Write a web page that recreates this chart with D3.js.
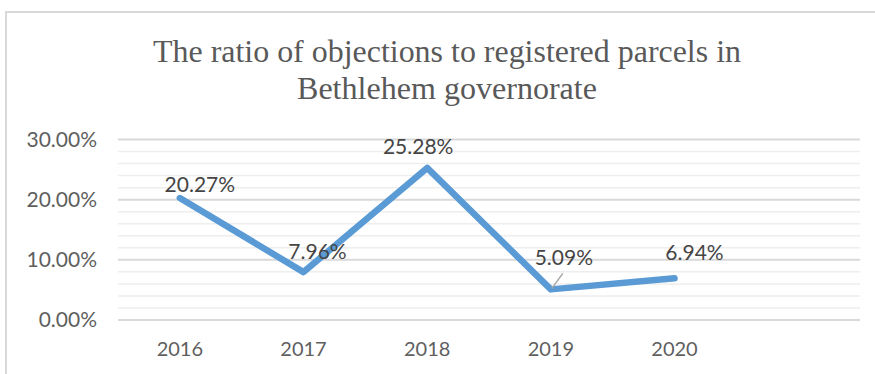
<!DOCTYPE html>
<html>
<head>
<meta charset="utf-8">
<script src="https://cdn.jsdelivr.net/npm/d3@7"></script>
<style>
  html, body { margin: 0; padding: 0; background: #fff; }
  svg { display: block; }
</style>
</head>
<body>
<div id="chart"></div>
<script>
// values
const years = ["2016", "2017", "2018", "2019", "2020"];
const ratios = [0.2027, 0.0796, 0.2528, 0.0509, 0.0694];
const yTicks = [0, 0.10, 0.20, 0.30];
const minorTicks = [0.02, 0.04, 0.06, 0.08, 0.12, 0.14, 0.16, 0.18, 0.22, 0.24, 0.26, 0.28];
const titleLines = ["The ratio of objections to registered parcels in", "Bethlehem governorate"];

const width = 875, height = 374;
const margin = {top: 139.5, right: 15, bottom: 54, left: 118};

const svg = d3.select("#chart").append("svg")
  .attr("width", width)
  .attr("height", height);

// chart frame (runs off the right and bottom edge)
svg.append("path")
  .attr("d", `M6 ${height + 5} L6 12 L${width + 5} 12`)
  .attr("fill", "none")
  .attr("stroke", "#d9d9d9")
  .attr("stroke-width", 2);

// title
svg.append("g")
  .selectAll("text")
  .data(titleLines)
  .join("text")
  .attr("x", 447)
  .attr("y", (d, i) => 62 + i * 37)
  .attr("text-anchor", "middle")
  .attr("font-family", "'Liberation Serif', 'Times New Roman', serif")
  .attr("font-size", 31)
  .attr("fill", "#595959")
  .attr("textLength", (d, i) => i === 0 ? 588 : 300)
  .attr("lengthAdjust", "spacingAndGlyphs")
  .text(d => d);

// one empty slot after 2020, like the source
const x = d3.scaleBand()
  .domain(years.concat([""]))
  .range([margin.left, width - margin.right]);

const y = d3.scaleLinear()
  .domain([0, 0.3])
  .range([height - margin.bottom, margin.top]);

const grid = svg.append("g");

grid.selectAll("line.minor")
  .data(minorTicks)
  .join("line")
  .attr("class", "minor")
  .attr("x1", margin.left)
  .attr("x2", width - margin.right)
  .attr("y1", d => y(d))
  .attr("y2", d => y(d))
  .attr("stroke", "#eeeeee")
  .attr("stroke-width", 1.5);

grid.selectAll("line.major")
  .data(yTicks)
  .join("line")
  .attr("class", "major")
  .attr("x1", margin.left)
  .attr("x2", width - margin.right)
  .attr("y1", d => y(d))
  .attr("y2", d => y(d))
  .attr("stroke", "#d9d9d9")
  .attr("stroke-width", 2);

// y axis labels
const yAxis = d3.axisLeft(y)
  .tickValues(yTicks)
  .tickFormat(d3.format(".2%"))
  .tickSize(0)
  .tickPadding(21);

svg.append("g")
  .attr("transform", `translate(${margin.left},0)`)
  .call(yAxis)
  .call(g => g.select(".domain").remove())
  .selectAll("text")
  .attr("font-family", "Lato, 'Open Sans', sans-serif")
  .attr("font-size", 21)
  .attr("fill", "#5f5f5f");

// x axis labels
const xAxis = d3.axisBottom(x)
  .tickSize(0)
  .tickPadding(22);

svg.append("g")
  .attr("transform", `translate(0,${height - margin.bottom})`)
  .call(xAxis)
  .call(g => g.select(".domain").remove())
  .selectAll("text")
  .attr("font-family", "Lato, 'Open Sans', sans-serif")
  .attr("font-size", 20)
  .attr("fill", "#5f5f5f");

const cx = d => x(d) + x.bandwidth() / 2;

const line = d3.line()
  .x((d, i) => cx(years[i]))
  .y(d => y(d));

svg.append("path")
  .datum(ratios)
  .attr("d", line)
  .attr("fill", "none")
  .attr("stroke", "#5b9bd5")
  .attr("stroke-width", 6.5)
  .attr("stroke-linejoin", "round")
  .attr("stroke-linecap", "round");

// data label placement, nudged by hand like in the original
const labelShift = [[20, -15], [14, -22], [-9, -22], [13, -33], [20, -27]];

// leader line for 2019
svg.append("line")
  .attr("x1", cx(years[3]) + 1)
  .attr("y1", y(ratios[3]) - 1)
  .attr("x2", cx(years[3]) + 12)
  .attr("y2", y(ratios[3]) - 16)
  .attr("stroke", "#a6a6a6")
  .attr("stroke-width", 1.5);

svg.append("g")
  .selectAll("text")
  .data(ratios)
  .join("text")
  .attr("x", (d, i) => cx(years[i]) + labelShift[i][0])
  .attr("y", (d, i) => y(d) + labelShift[i][1])
  .attr("text-anchor", "middle")
  .attr("dominant-baseline", "central")
  .attr("font-family", "Lato, 'Open Sans', sans-serif")
  .attr("font-size", 21)
  .attr("fill", "#454545")
  .text(d => d3.format(".2%")(d));
</script>
</body>
</html>
